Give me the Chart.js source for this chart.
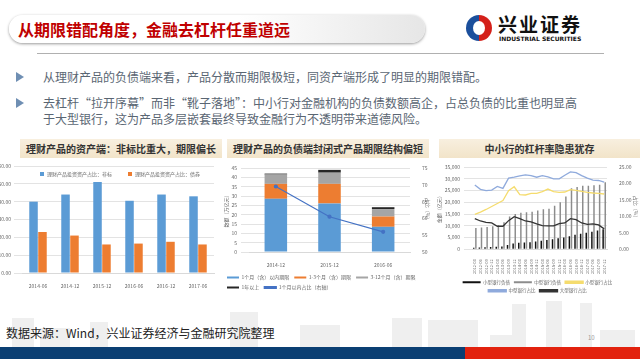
<!DOCTYPE html>
<html><head><meta charset="utf-8">
<script src="https://cdn.jsdelivr.net/npm/chart.js@4"></script>
<style>
html,body{margin:0;padding:0}
body{width:640px;height:359px;overflow:hidden;background:#fff;font-family:"Noto Sans CJK SC","Noto Sans",sans-serif;position:relative}
.a{position:absolute}
.bld{background:#efefef}
.hdr{position:absolute;top:139px;height:19px;background:linear-gradient(#f8efdf,#f2e4c9);font-weight:bold;font-size:10px;color:#333;line-height:19px;text-align:center}
.bt{position:absolute;left:43px;font-size:12px;color:#5a6673;white-space:nowrap;line-height:16px}
.arr{position:absolute;left:16px;width:0;height:0;border-top:5px solid transparent;border-bottom:5px solid transparent;border-left:8px solid #6f8fb3}
</style></head>
<body>
<!-- skyline -->
<div class="a bld" style="left:12px;top:318px;width:22px;height:30px"></div>
<div class="a bld" style="left:40px;top:328px;width:30px;height:20px"></div>
<div class="a bld" style="left:90px;top:322px;width:18px;height:26px"></div>
<div class="a bld" style="left:230px;top:312px;width:28px;height:36px"></div>
<div class="a bld" style="left:300px;top:325px;width:40px;height:23px"></div>
<div class="a bld" style="left:392px;top:318px;width:30px;height:30px"></div>
<div class="a bld" style="left:428px;top:320px;width:50px;height:28px"></div>
<div class="a bld" style="left:490px;top:335px;width:30px;height:13px"></div>
<div class="a bld" style="left:512px;top:304px;width:14px;height:44px"></div>
<div class="a bld" style="left:546px;top:301px;width:16px;height:47px"></div>
<div class="a bld" style="left:580px;top:303px;width:12px;height:45px"></div>
<div class="a bld" style="left:600px;top:330px;width:35px;height:18px"></div>

<!-- title banner -->
<div class="a" style="left:9px;top:15px;width:416px;height:28px;border-radius:14px;background:linear-gradient(to right,#ffffff 55%,#e6e6e6);box-shadow:0 1px 3px #999"></div>
<div class="a" style="left:18px;top:15px;height:28px;line-height:28px;font-size:16px;font-weight:bold;color:#c00000;white-space:nowrap">从期限错配角度，金融去杠杆任重道远</div>
<!-- logo -->
<div class="a" style="left:466px;top:15px;width:26px;height:26px;border-radius:50%;background:conic-gradient(#d4201a 0 50%,#1b4f9c 50% 100%)"></div>
<div class="a" style="left:473px;top:21px;width:12px;height:14px;border-radius:50%;background:#fff"></div>
<div class="a" style="left:498px;top:12px;font-size:19px;font-weight:bold;color:#111;letter-spacing:2px;white-space:nowrap;line-height:24px">兴业证券</div>
<div class="a" style="left:499px;top:35px;font-size:6px;font-weight:bold;color:#111;white-space:nowrap;line-height:7px;font-family:'DejaVu Sans'">INDUSTRIAL SECURITIES</div>
<div class="a" style="left:37px;top:53px;width:567px;height:1px;background:#b0b0b0"></div>

<!-- bullets -->
<div class="arr" style="top:72px"></div>
<div class="bt" style="top:69px">从理财产品的负债端来看，产品分散而期限极短，同资产端形成了明显的期限错配。</div>
<div class="arr" style="top:98px"></div>
<div class="bt" style="top:95px">去杠杆“拉开序幕”而非“靴子落地”：中小行对金融机构的负债数额高企，占总负债的比重也明显高</div>
<div class="bt" style="top:111px">于大型银行，这为产品多层嵌套最终导致金融行为不透明带来道德风险。</div>

<!-- headers -->
<div class="hdr" style="left:20px;width:202px">理财产品的资产端：非标比重大，期限偏长</div>
<div class="hdr" style="left:227px;width:202px">理财产品的负债端封闭式产品期限结构偏短</div>
<div class="hdr" style="left:439px;width:201px">中小行的杠杆率隐患犹存</div>

<!-- charts -->
<div class="a" style="left:0;top:160px;width:220px;height:128px"><canvas id="c1"></canvas></div>
<div class="a" id="lg1" style="left:40px;top:169px;font-size:5px;color:#666;white-space:nowrap;line-height:8px"></div>
<div class="a" style="left:222px;top:160px;width:210px;height:140px"><canvas id="c2"></canvas></div>
<div class="a" style="left:435px;top:160px;width:205px;height:143px"><canvas id="c3"></canvas></div>

<!-- footer -->
<div class="a" style="left:6px;top:325px;font-size:12px;color:#222;white-space:nowrap;line-height:16px">数据来源：Wind，兴业证券经济与金融研究院整理</div>
<div class="a" style="left:588px;top:334px;font-size:6px;color:#999;line-height:8px">10</div>
<div class="a" style="left:0;top:347px;width:465px;height:12px;background:#0b3f73"></div>
<div class="a" style="left:465px;top:347px;width:175px;height:12px;background:#e2220e"></div>

<script>
// ---------- data ----------
const c1Cats = ["2014-06","2014-12","2015-12","2016-06","2016-12","2017-06"];
const c1Names = ["理财产品投资资产占比：非标","理财产品投资资产占比：债券"];
const c1NonStd = [40.0, 44.0, 51.0, 40.5, 44.0, 43.0];
const c1Bond = [23.0, 21.0, 16.0, 16.5, 17.5, 16.0];

const c2Cats = ["2014-12","2015-12","2016-06"];
const c2Names = ["1个月（含）以内期限","1-3个月（含）期限","3-12个月（含）期限","1年以上","1个月以内占比（右轴）"];
const c2Within1m = [28.5, 26.0, 13.5];
const c2M1to3 = [8.0, 10.5, 5.5];
const c2M3to12 = [5.0, 6.0, 4.0];
const c2Over1y = [0.5, 1.5, 1.0];
const c2Share = [69.5, 60.5, 56.0];

const c3Cats = ["2012-03","2012-06","2012-09","2012-12","2013-03","2013-06","2013-09","2013-12",
  "2014-03","2014-06","2014-09","2014-12","2015-03","2015-06","2015-09","2015-12",
  "2016-03","2016-06","2016-09","2016-12","2017-03","2017-06","2017-09","2017-12"];
const c3Names = ["小型银行负债","中型银行负债","小型银行占比","中型银行占比","大型银行占比"];
const c3SmallDebt = [700,800,900,1000,1100,1200,1800,2500,2800,2900,3000,3300,3600,4000,4300,4700,5000,5600,6200,6600,7000,7500,8000,8500];
const c3MidDebt = [9100,9300,9500,9800,10200,11500,14000,15000,15500,15800,16000,16500,17000,17200,18500,20000,22500,26000,26500,27000,27000,27200,27500,28500];
const c3SmallShare = [10.6,11.3,12.1,13.0,13.9,14.8,17.8,19.0,16.6,16.5,17.0,17.0,17.5,18.3,17.5,17.3,17.4,18.1,17.9,17.6,17.3,17.1,17.0,16.8];
const c3MidShare = [19.5,18.2,17.8,18.0,19.1,18.5,21.6,21.9,22.3,22.6,22.4,21.9,22.4,22.0,21.4,21.4,22.5,23.5,23.3,22.4,21.6,21.0,20.9,20.4];
const c3BigShare = [9.3,8.6,8.2,8.0,7.0,7.0,8.7,9.9,9.3,8.6,8.3,7.7,7.2,7.1,7.1,7.8,8.0,9.3,9.0,8.0,7.6,7.7,7.4,6.2];

// ---------- common ----------
Chart.defaults.font.family = '"Noto Sans CJK SC","Noto Sans",sans-serif';
Chart.defaults.font.size = 5;
Chart.defaults.color = '#666';
Chart.defaults.animation = false;
Chart.defaults.responsive = true;
Chart.defaults.maintainAspectRatio = false;
Chart.defaults.plugins.tooltip.enabled = false;
const gridC = '#e3e3e3';
const fixW = w => (s => { s.width = w; });
const fixH = h => (s => { s.height = h; });

// ---------- chart 1 ----------
const c1Colors = ['#5b9bd5','#ed7d31'];
new Chart(document.getElementById('c1'), {
  type: 'bar',
  data: { labels: c1Cats, datasets: [
    { label: c1Names[0], data: c1NonStd, backgroundColor: c1Colors[0] },
    { label: c1Names[1], data: c1Bond, backgroundColor: c1Colors[1] } ] },
  options: {
    layout: { padding: { top: 6, right: 6 } },
    datasets: { bar: { categoryPercentage: 0.56, barPercentage: 0.95 } },
    plugins: { legend: { display: false } },
    scales: {
      x: { grid: { display: false }, border: { color: '#d9d9d9' }, ticks: { padding: 2 }, afterFit: fixH(15) },
      y: { min: 0, max: 60, ticks: { stepSize: 10, callback: v => v.toFixed(2), padding: 3 },
           grid: { color: gridC }, border: { display: false }, afterFit: fixW(22) }
    }
  }
});
document.getElementById('lg1').innerHTML = c1Names.map((n,i) =>
  '<span style="display:inline-block;width:4px;height:4px;background:'+c1Colors[i]+';margin-right:3px;vertical-align:middle"></span>' +
  '<span style="margin-right:16px;vertical-align:middle">'+n+'</span>').join('');

// ---------- chart 2 ----------
const c2Colors = ['#5b9bd5','#ed7d31','#a5a5a5','#262626','#4472c4'];
new Chart(document.getElementById('c2'), {
  data: { labels: c2Cats, datasets: [
    { type: 'line', label: c2Names[4], data: c2Share, yAxisID: 'y1', borderColor: c2Colors[4], backgroundColor: c2Colors[4],
      borderWidth: 1.2, pointRadius: 1.5, order: 0 },
    { type: 'bar', label: c2Names[0], data: c2Within1m, backgroundColor: c2Colors[0], stack: 's', order: 1 },
    { type: 'bar', label: c2Names[1], data: c2M1to3, backgroundColor: c2Colors[1], stack: 's', order: 1 },
    { type: 'bar', label: c2Names[2], data: c2M3to12, backgroundColor: c2Colors[2], stack: 's', order: 1 },
    { type: 'bar', label: c2Names[3], data: c2Over1y, backgroundColor: c2Colors[3], stack: 's', order: 1 } ] },
  options: {
    layout: { padding: { top: 8 } },
    datasets: { bar: { categoryPercentage: 0.42, barPercentage: 1 } },
    plugins: { legend: { position: 'bottom', align: 'start',
      labels: { boxWidth: 12, boxHeight: 2, padding: 5, font: { size: 5 }, sort: (a,b) => (a.datasetIndex===0?5:a.datasetIndex)-(b.datasetIndex===0?5:b.datasetIndex) } } },
    scales: {
      x: { stacked: true, grid: { display: false }, border: { color: '#d9d9d9' }, ticks: { padding: 2 } },
      y: { stacked: true, min: 0, max: 45, ticks: { stepSize: 5, padding: 4 }, grid: { color: gridC }, border: { display: false },
           title: { display: true, text: '数额（万亿元）', padding: 1 }, afterFit: fixW(27) },
      y1: { position: 'right', min: 50, max: 75, ticks: { stepSize: 5, padding: 4 }, grid: { display: false }, border: { display: false },
           title: { display: true, text: '占比（%）', padding: 1 }, afterFit: fixW(22) }
    }
  }
});

// ---------- chart 3 ----------
new Chart(document.getElementById('c3'), {
  data: { labels: c3Cats, datasets: [
    { type: 'bar', label: c3Names[0], data: c3SmallDebt, backgroundColor: '#111111', order: 2 },
    { type: 'bar', label: c3Names[1], data: c3MidDebt, backgroundColor: '#8c8c8c', order: 2 },
    { type: 'line', label: c3Names[2], data: c3SmallShare, yAxisID: 'y1', borderColor: '#f5dc6e', backgroundColor: '#f5dc6e', borderWidth: 1.3, pointRadius: 0, order: 0 },
    { type: 'line', label: c3Names[3], data: c3MidShare, yAxisID: 'y1', borderColor: '#8faadc', backgroundColor: '#8faadc', borderWidth: 1.3, pointRadius: 0, order: 0 },
    { type: 'line', label: c3Names[4], data: c3BigShare, yAxisID: 'y1', borderColor: '#333333', backgroundColor: '#333333', borderWidth: 1.3, pointRadius: 0, order: 0 } ] },
  options: {
    layout: { padding: { top: 4 } },
    datasets: { bar: { categoryPercentage: 0.75, barPercentage: 0.7 } },
    plugins: { legend: { position: 'bottom',
      labels: { boxWidth: 18, boxHeight: 2, padding: 4, font: { size: 4.5 }, sort: (a,b) => a.datasetIndex-b.datasetIndex } } },
    scales: {
      x: { grid: { display: false }, border: { color: '#d9d9d9' }, ticks: { maxRotation: 90, minRotation: 90, autoSkip: false, font: { size: 4 }, padding: 2 } },
      y: { min: 0, max: 35000, ticks: { stepSize: 5000, padding: 4 }, grid: { color: gridC }, border: { display: false },
           title: { display: true, text: '金额（亿元）', padding: 1 }, afterFit: fixW(37) },
      y1: { position: 'right', min: 0, max: 25, ticks: { stepSize: 5, callback: v => v.toFixed(2), padding: 4 }, grid: { display: false }, border: { display: false },
           title: { display: true, text: '占比（%）', padding: 1 }, afterFit: fixW(33) }
    }
  }
});
</script>
</body></html>
